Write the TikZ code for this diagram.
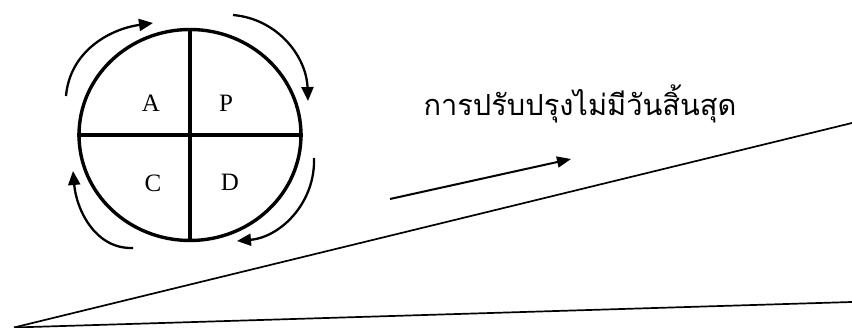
\documentclass[tikz,border=0pt]{standalone}
\usepackage{fontspec}
\setmainfont{Liberation Serif}
\newfontfamily\thaifont[Script=Thai]{Loma}
\usetikzlibrary{arrows.meta,shapes.geometric}
\begin{document}
\begin{tikzpicture}[x=1pt,y=1pt,
  cyc/.style={line width=2.3pt,-{Triangle[length=14pt,width=12pt]}},
  quad/.style={font=\fontsize{25}{28}\selectfont},
  slope/.style={line width=1.7pt}]
\useasboundingbox (0,0) rectangle (852,328);
% circle
\node[draw,line width=3.4pt,ellipse,minimum width=222pt,minimum height=211pt,inner sep=0pt] (circ) at (190,193) {};
\draw[line width=3.2pt] (circ.north) -- (circ.south);
\draw[line width=3.2pt] (circ.west) -- (circ.east);
\node[quad] (A) at (151,225) {A};
\node[quad] (P) at (226,225) {P};
\node[quad] (C) at (153,145) {C};
\node[quad] (D) at (230,146) {D};
% cycle arrows
\coordinate (a1s) at (66,232); \coordinate (a1e) at (153,305);
\coordinate (a2s) at (233,313); \coordinate (a2e) at (308,227);
\coordinate (a3s) at (314,170); \coordinate (a3e) at (237,87);
\coordinate (a4s) at (133,80); \coordinate (a4e) at (73,157);
\draw[cyc] (a1s) to[out=85,in=188] (a1e);
\draw[cyc] (a2s) to[out=-5,in=92] (a2e);
\draw[cyc] (a3s) to[out=-88,in=5] (a3e);
\draw[cyc] (a4s) to[out=182,in=-85] (a4e);
% text
\node (txt) at (580,224) {\thaifont\fontsize{29}{32}\selectfont การปรับปรุงไม่มีวันสิ้นสุด};
% arrow
\coordinate (ars) at (390,129); \coordinate (are) at (571,169);
\draw[line width=2pt,-{Triangle[length=14pt,width=11pt]}] (ars) -- (are);
% slopes
\coordinate (o) at (14,0.5);
\coordinate (up) at (852,205);
\coordinate (lo) at (852,26);
\draw[slope] (o) -- (up);
\draw[slope] (o) -- (lo);
\end{tikzpicture}
\end{document}
